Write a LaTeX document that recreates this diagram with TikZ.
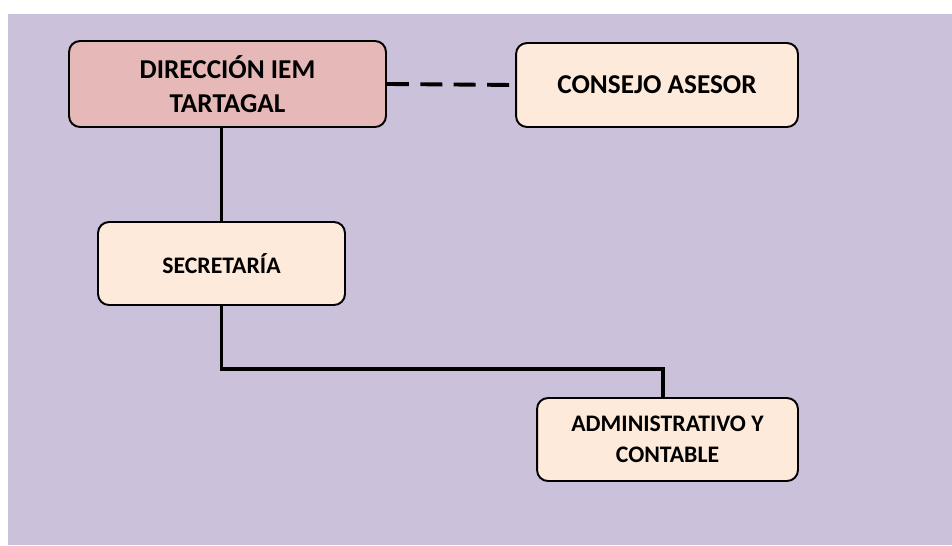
\documentclass[tikz,border=0pt]{standalone}
\usepackage{fontspec}
\setmainfont{Carlito}
\usepackage{tikz}
\usetikzlibrary{positioning}
\definecolor{lavender_bg}{HTML}{CBC1DB}
\definecolor{rose_fill}{HTML}{E6B9B8}
\definecolor{cream_fill}{HTML}{FDEADA}
\tikzstyle{head_box} = [
    rectangle,
    rounded corners=0.22cm,
    draw=black,
    line width=1.1pt,
    fill=rose_fill,
    font=\fontsize{15.5}{19}\selectfont\bfseries,
    align=center,
    inner sep=0pt,
    text centered
]
\tikzstyle{unit_box} = [
    rectangle,
    rounded corners=0.22cm,
    draw=black,
    line width=1.1pt,
    fill=cream_fill,
    font=\fontsize{13.5}{17.5}\selectfont\bfseries,
    align=center,
    inner sep=0pt,
    text centered
]
\tikzstyle{link} = [
    draw=black,
    line width=2.2pt
]

\begin{document}
\begin{tikzpicture}[x=0.02cm, y=-0.02cm]
\useasboundingbox (0,0) rectangle (952,545);
\fill[lavender_bg] (8,14) rectangle (952,545);

\node [head_box, minimum width=6.34cm, minimum height=1.72cm] (direccion) at (227.5,84) {DIRECCIÓN IEM\\TARTAGAL};
\node [unit_box, font=\fontsize{15.5}{19}\selectfont\bfseries, minimum width=5.64cm, minimum height=1.68cm] (consejo) at (657,85) {CONSEJO ASESOR};
\node [unit_box, minimum width=4.94cm, minimum height=1.66cm] (secretaria) at (221.5,263.5) {SECRETARÍA};
\node [unit_box, minimum width=5.22cm, minimum height=1.66cm] (admin) at (667.5,439.5) {ADMINISTRATIVO Y\\CONTABLE};

\coordinate (elbow) at (663,369);

\draw [link] (secretaria.north) -- (secretaria.north |- direccion.south);
\draw [link, dash pattern=on 12.5pt off 6.5pt] (direccion.east) -- (consejo.west);
\draw [link] (secretaria.south) |- (elbow) -- (elbow |- admin.north);
\end{tikzpicture}
\end{document}
